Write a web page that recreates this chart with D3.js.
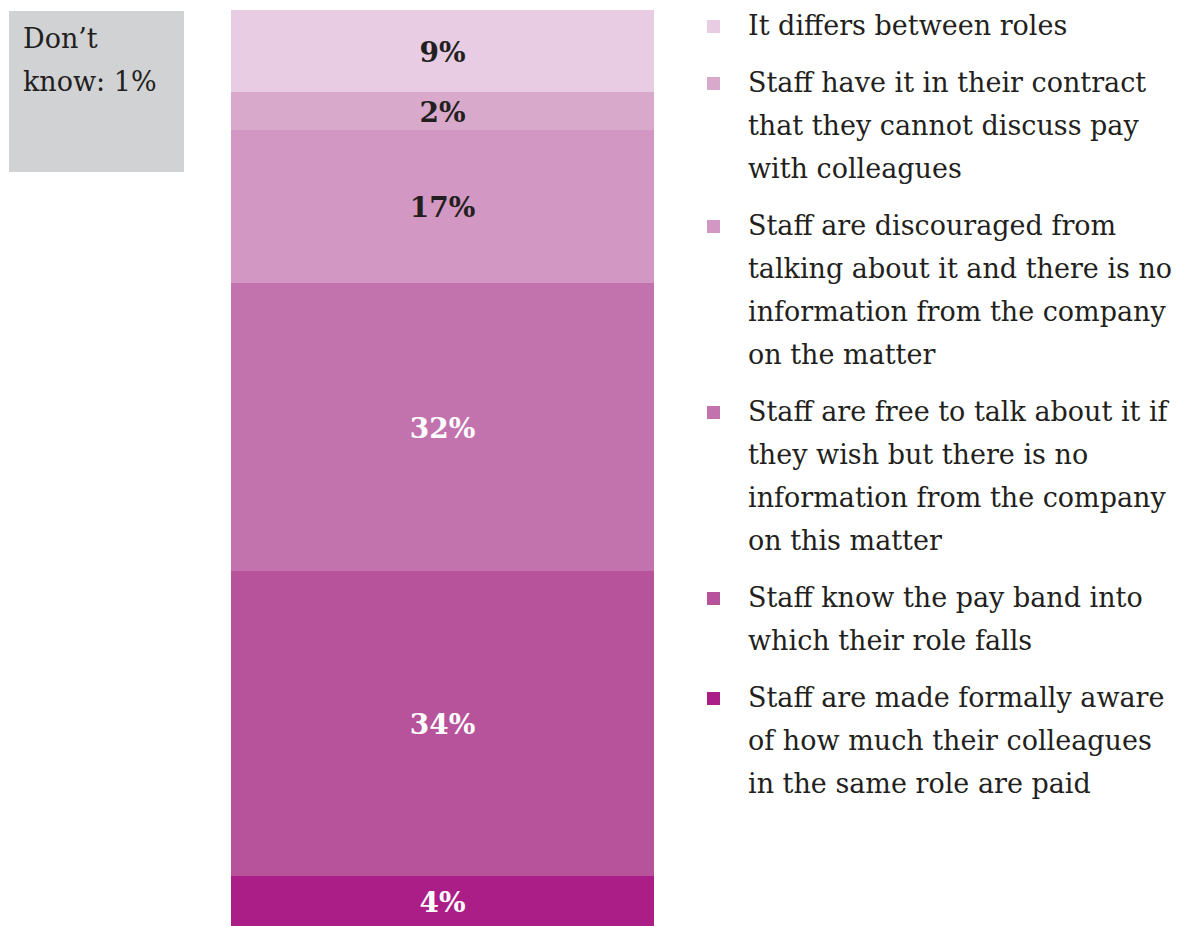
<!DOCTYPE html>
<html>
<head>
<meta charset="utf-8">
<script src="https://cdn.jsdelivr.net/npm/d3@7"></script>
<style>
  body { margin: 0; background: #fff; }
  svg { display: block; }
</style>
</head>
<body>
<div id="chart"></div>
<script>
// segments, bottom to top
const categories = [
  'Staff are made formally aware of how much their colleagues in the same role are paid',
  'Staff know the pay band into which their role falls',
  'Staff are free to talk about it if they wish but there is no information from the company on this matter',
  'Staff are discouraged from talking about it and there is no information from the company on the matter',
  'Staff have it in their contract that they cannot discuss pay with colleagues',
  'It differs between roles'
];
// share of the bar as drawn
const shares = [5.3, 32.7, 30.8, 16.4, 4.0, 8.8];
// printed labels
const labels = ['4%', '34%', '32%', '17%', '2%', '9%'];
// legend wording as wrapped in the original
const legendLines = [
  ['Staff are made formally aware', 'of how much their colleagues', 'in the same role are paid'],
  ['Staff know the pay band into', 'which their role falls'],
  ['Staff are free to talk about it if', 'they wish but there is no', 'information from the company', 'on this matter'],
  ['Staff are discouraged from', 'talking about it and there is no', 'information from the company', 'on the matter'],
  ['Staff have it in their contract', 'that they cannot discuss pay', 'with colleagues'],
  ['It differs between roles']
];
const colors = ['#ab1e88', '#b7539b', '#c272ad', '#d297c3', '#d9a9cc', '#e8cce3'];
const darkLabel = [false, false, false, true, true, true];
const dontKnow = ['Don\u2019t', 'know: 1%'];

const width = 1189, height = 926;
const font = '"DejaVu Serif", Georgia, serif';
const ink = '#231f20';

const svg = d3.select('#chart').append('svg')
  .attr('width', width)
  .attr('height', height);

// stacked bar
const ends = d3.cumsum(shares);
const rows = shares.map((v, i) => ({
  v, i, y0: ends[i] - v, y1: ends[i]
}));

const y = d3.scaleLinear()
  .domain([0, d3.sum(shares)])
  .range([926, 10]);

const x = d3.scaleBand()
  .domain(['all'])
  .range([231, 654]);

const bar = svg.append('g');

bar.selectAll('rect')
  .data(rows)
  .enter()
  .append('rect')
  .attr('x', x('all'))
  .attr('width', x.bandwidth())
  .attr('y', d => Math.round(y(d.y1)))
  .attr('height', d => Math.round(y(d.y0)) - Math.round(y(d.y1)))
  .attr('shape-rendering', 'crispEdges')
  .attr('fill', d => colors[d.i]);

bar.selectAll('text')
  .data(rows)
  .enter()
  .append('text')
  .attr('x', x('all') + x.bandwidth() / 2)
  .attr('y', d => (y(d.y0) + y(d.y1)) / 2)
  .attr('dy', '0.38em')
  .attr('text-anchor', 'middle')
  .attr('font-family', font)
  .attr('font-weight', 'bold')
  .attr('font-size', 28)
  .attr('fill', d => darkLabel[d.i] ? ink : '#fff')
  .text(d => labels[d.i]);

// don't know box
const box = svg.append('g');
box.append('rect')
  .attr('x', 9).attr('y', 11)
  .attr('width', 175).attr('height', 161)
  .attr('fill', '#d1d2d4');
box.selectAll('text')
  .data(dontKnow)
  .enter()
  .append('text')
  .attr('x', 23)
  .attr('y', (d, i) => 48 + i * 43)
  .attr('font-family', font)
  .attr('font-size', 27)
  .attr('fill', ink)
  .text(d => d);

// legend, top to bottom
const lineH = 43, gap = 14;
const legend = svg.append('g');
let ly = 35;
d3.range(categories.length - 1, -1, -1).forEach(i => {
  const g = legend.append('g');
  g.append('rect')
    .attr('x', 707).attr('y', ly - 15)
    .attr('width', 13).attr('height', 13)
    .attr('fill', colors[i]);
  g.selectAll('text')
    .data(legendLines[i])
    .enter()
    .append('text')
    .attr('x', 748)
    .attr('y', (d, k) => ly + k * lineH)
    .attr('font-family', font)
    .attr('font-size', 27)
    .attr('fill', ink)
    .text(d => d);
  ly += legendLines[i].length * lineH + gap;
});
</script>
</body>
</html>
